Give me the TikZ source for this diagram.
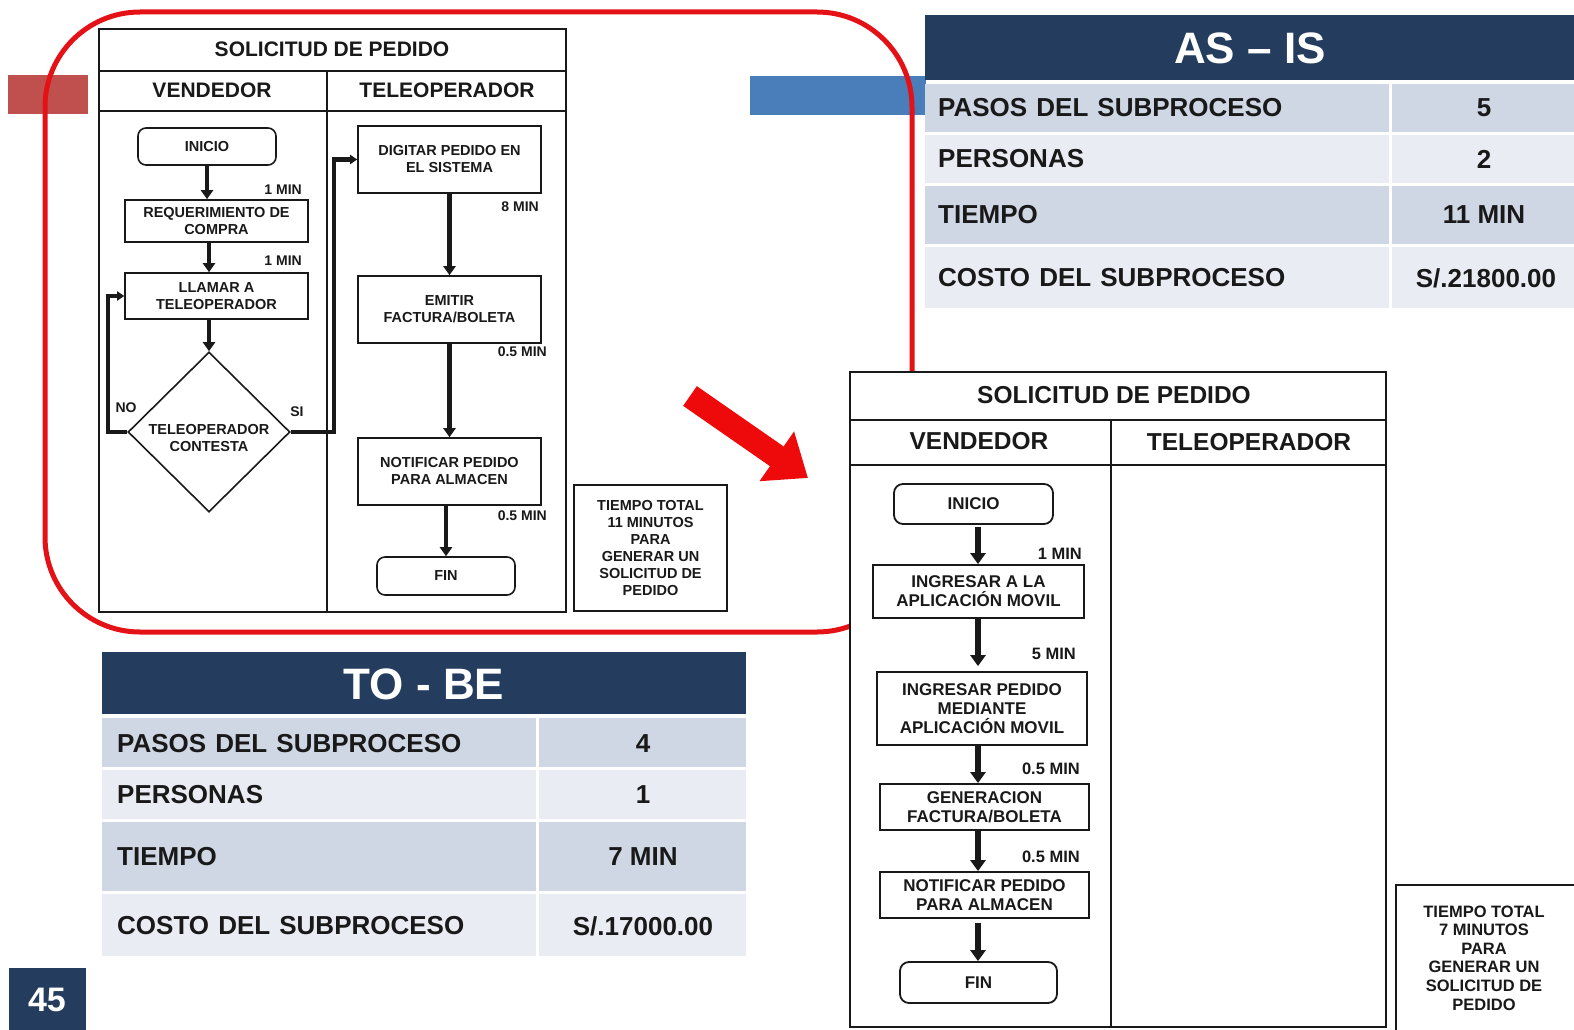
\documentclass[tikz,border=0pt]{standalone}
\usepackage{fontspec}
\setmainfont{Liberation Sans}
\usetikzlibrary{shapes.geometric,arrows.meta,calc}

\definecolor{navy}{RGB}{36,60,94}
\definecolor{rowA}{RGB}{207,214,228}
\definecolor{rowB}{RGB}{233,236,243}
\definecolor{framered}{RGB}{228,18,22}
\definecolor{arrowred}{RGB}{238,10,10}
\definecolor{barred}{RGB}{192,80,77}
\definecolor{barblue}{RGB}{74,126,187}
\definecolor{ink}{RGB}{25,25,25}

\newcommand\bsz[2]{\fontsize{#1}{#2}\selectfont\bfseries}

\tikzset{
  lane/.style={draw=ink, line width=1.6pt},
  procA/.style={draw=ink, line width=1.6pt, fill=white, align=center, inner sep=0pt,
                text=ink, font=\bsz{14.5pt}{17pt}},
  termA/.style={procA, rounded corners=8pt},
  procB/.style={draw=ink, line width=1.8pt, fill=white, align=center, inner sep=0pt,
                text=ink, font=\bsz{17pt}{19pt}},
  termB/.style={procB, rounded corners=9pt},
  flowA/.style={draw=ink, line width=4.5pt, -{Triangle[length=9pt,width=12pt]}},
  flowB/.style={draw=ink, line width=5.5pt, -{Triangle[length=11pt,width=15pt]}},
  loopA/.style={draw=ink, line width=4.5pt, -{Triangle[length=7pt,width=9pt]}},
  lblA/.style={text=ink, inner sep=0pt, font=\bsz{14pt}{16pt}},
  lblB/.style={text=ink, inner sep=0pt, font=\bsz{16.5pt}{18pt}},
  headA/.style={text=ink, inner sep=0pt, font=\bsz{21pt}{24pt}},
  headB/.style={text=ink, inner sep=0pt, font=\bsz{24.5pt}{28pt}},
  tabhead/.style={text=white, inner sep=0pt, font=\bsz{44pt}{48pt}},
  tablbl/.style={text=ink, inner sep=0pt, anchor=west, font=\bsz{26pt}{30pt}},
  tabval/.style={text=ink, inner sep=0pt, font=\bsz{26pt}{30pt}},
  frame/.style={draw=framered, line width=5pt, rounded corners=95pt},
}

\begin{document}
\begin{tikzpicture}[x=1pt,y=-1pt]
\useasboundingbox (0,0) rectangle (1574,1030);
\fill[white] (0,0) rectangle (1574,1030);

% decorative bars behind the frame
\fill[barred] (8,75) rectangle (88,114);
\fill[barblue] (750,76) rectangle (926,115);

% red highlight frame around the current process
\draw[frame] (45,12) rectangle (912,632);

% ---------------- current process (swimlanes) ----------------
\draw[lane, fill=white] (99,29) rectangle (566,612);
\draw[lane] (99,71) -- (566,71);
\draw[lane] (99,111) -- (566,111);
\draw[lane] (327,71) -- (327,612);
\node[headA] (asTitle) at (332,49) {SOLICITUD DE PEDIDO};
\node[headA] (asVend) at (212,90) {VENDEDOR};
\node[headA] (asTele) at (447,90) {TELEOPERADOR};

\node[termA, minimum width=138pt, minimum height=37pt] (ini) at (207,146.5) {INICIO};
\node[procA, minimum width=183pt, minimum height=42pt] (req) at (216.5,221) {REQUERIMIENTO DE\\COMPRA};
\node[procA, minimum width=183pt, minimum height=46pt] (call) at (216.5,296) {LLAMAR A\\TELEOPERADOR};
\node[diamond, draw=ink, line width=1.6pt, fill=white, inner sep=0pt, aspect=1,
      minimum width=162pt, minimum height=160pt,
      label={[yshift=-6pt, align=center, text=ink, inner sep=0pt, font=\bsz{14.5pt}{17pt}]center:TELEOPERADOR\\CONTESTA}] (dec) at (209,432) {};
\node[procA, minimum width=183pt, minimum height=67pt] (dig) at (449.5,159.5) {DIGITAR PEDIDO EN\\EL SISTEMA};
\node[procA, minimum width=183pt, minimum height=67pt] (emit) at (449.5,309.5) {EMITIR\\FACTURA/BOLETA};
\node[procA, minimum width=183pt, minimum height=67pt] (notA) at (449.5,471.5) {NOTIFICAR PEDIDO\\PARA ALMACEN};
\node[termA, minimum width=138pt, minimum height=38pt] (finA) at (446,576) {FIN};
\node[procA, minimum width=153pt, minimum height=126pt] (totA) at (650.5,548) {TIEMPO TOTAL\\11 MINUTOS\\PARA\\GENERAR UN\\SOLICITUD DE\\PEDIDO};

\draw[flowA] (ini.south) -- (ini.south |- req.north);
\draw[flowA] (req.south -| dec.north) -- (call.north -| dec.north);
\draw[flowA] (call.south -| dec.north) -- (dec.north);
\draw[loopA] (dec.west) -- ++(-19,0) |- (call.west);
\draw[loopA] (dec.east) -- ++(43,0) |- (dig.west);
\draw[flowA] (dig.south) -- (emit.north);
\draw[flowA] (emit.south) -- (notA.north);
\draw[flowA] (notA.south -| finA.north) -- (finA.north);

\node[lblA, anchor=east] (a1) at (302,190) {1 MIN};
\node[lblA, anchor=east] (a2) at (302,261) {1 MIN};
\node[lblA, anchor=east] (a3) at (539,207) {8 MIN};
\node[lblA, anchor=east] (a4) at (547,352) {0.5 MIN};
\node[lblA, anchor=east] (a5) at (547,516) {0.5 MIN};
\node[lblA] (no) at (126,408) {NO};
\node[lblA] (si) at (297,412) {SI};

% arrow leading to the improved process
\coordinate (arrTail) at (690,396);
\coordinate (arrTip) at (808,478);
\draw[arrowred, line width=24pt, -{Triangle[length=38pt,width=58pt]}] (arrTail) -- (arrTip);

% ---------------- improved process (swimlanes) ----------------
\draw[lane, line width=1.8pt, fill=white] (850,372) rectangle (1386,1027);
\draw[lane, line width=1.8pt] (850,420) -- (1386,420);
\draw[lane, line width=1.8pt] (850,465) -- (1386,465);
\draw[lane, line width=1.8pt] (1111,420) -- (1111,1027);
\node[headB] (tbTitle) at (1114,395) {SOLICITUD DE PEDIDO};
\node[headB] (tbVend) at (979,441) {VENDEDOR};
\node[headB] (tbTele) at (1249,442) {TELEOPERADOR};

\coordinate (colB) at (978,0);
\node[termB, minimum width=159pt, minimum height=40pt] (iniB) at (973.5,504) {INICIO};
\node[procB, minimum width=211pt, minimum height=53pt] (appB) at (978.5,591.5) {INGRESAR A LA\\APLICACIÓN MOVIL};
\node[procB, minimum width=210pt, minimum height=73pt] (pedB) at (982,708.5) {INGRESAR PEDIDO\\MEDIANTE\\APLICACIÓN MOVIL};
\node[procB, minimum width=209pt, minimum height=46pt] (genB) at (984.5,807) {GENERACION\\FACTURA/BOLETA};
\node[procB, minimum width=209pt, minimum height=46pt] (notB) at (984.5,895) {NOTIFICAR PEDIDO\\PARA ALMACEN};
\node[termB, minimum width=157pt, minimum height=41pt] (finB) at (978.5,982.5) {FIN};

\draw[flowB] ([yshift=-2pt]iniB.south -| colB) -- (appB.north -| colB);
\draw[flowB] (appB.south -| colB) -- ([yshift=5pt]pedB.north -| colB);
\draw[flowB] (pedB.south -| colB) -- (genB.north -| colB);
\draw[flowB] (genB.south -| colB) -- (notB.north -| colB);
\draw[flowB] ([yshift=-4pt]notB.south -| colB) -- (finB.north -| colB);

\node[lblB, anchor=east] (b1) at (1082,554) {1 MIN};
\node[lblB, anchor=east] (b2) at (1076,654) {5 MIN};
\node[lblB, anchor=east] (b3) at (1080,769) {0.5 MIN};
\node[lblB, anchor=east] (b4) at (1080,857) {0.5 MIN};

\draw[lane, line width=1.8pt, fill=white] (1396,885) rectangle (1590,1040);
\node[align=center, text=ink, inner sep=0pt, font=\bsz{16.5pt}{18.6pt}] (totB) at (1484,958)
  {TIEMPO TOTAL\\7 MINUTOS\\PARA\\GENERAR UN\\SOLICITUD DE\\PEDIDO};

% ---------------- AS-IS summary table ----------------
\fill[navy] (925,15) rectangle (1590,80);
\node[tabhead] (asHead) at (1250,48) {AS – IS};
\fill[rowA] (925,84) rectangle (1389,132);
\fill[rowA] (1392,84) rectangle (1590,132);
\fill[rowB] (925,135) rectangle (1389,183);
\fill[rowB] (1392,135) rectangle (1590,183);
\fill[rowA] (925,186) rectangle (1389,244);
\fill[rowA] (1392,186) rectangle (1590,244);
\fill[rowB] (925,247) rectangle (1389,308);
\fill[rowB] (1392,247) rectangle (1590,308);
\node[tablbl] (asL1) at (938,108) {PASOS\hspace{0.35em}DEL\hspace{0.35em}SUBPROCESO};
\node[tablbl] (asL2) at (938,159) {PERSONAS};
\node[tablbl] (asL3) at (938,215) {TIEMPO};
\node[tablbl] (asL4) at (938,278) {COSTO\hspace{0.35em}DEL\hspace{0.35em}SUBPROCESO};
\node[tabval] (asV1) at (1484,108) {5};
\node[tabval] (asV2) at (1484,159) {2};
\node[tabval] (asV3) at (1484,215) {11 MIN};
\node[tabval] (asV4) at (1486,278) {S/.21800.00};

% ---------------- TO-BE summary table ----------------
\fill[navy] (102,652) rectangle (746,714);
\node[tabhead] (tbHead) at (424,684) {TO - BE};
\fill[rowA] (102,718) rectangle (536,767);
\fill[rowA] (539,718) rectangle (746,767);
\fill[rowB] (102,770) rectangle (536,819);
\fill[rowB] (539,770) rectangle (746,819);
\fill[rowA] (102,822) rectangle (536,891);
\fill[rowA] (539,822) rectangle (746,891);
\fill[rowB] (102,894) rectangle (536,956);
\fill[rowB] (539,894) rectangle (746,956);
\node[tablbl] (tbL1) at (117,744) {PASOS\hspace{0.35em}DEL\hspace{0.35em}SUBPROCESO};
\node[tablbl] (tbL2) at (117,795) {PERSONAS};
\node[tablbl] (tbL3) at (117,857) {TIEMPO};
\node[tablbl] (tbL4) at (117,926) {COSTO\hspace{0.35em}DEL\hspace{0.35em}SUBPROCESO};
\node[tabval] (tbV1) at (643,744) {4};
\node[tabval] (tbV2) at (643,795) {1};
\node[tabval] (tbV3) at (643,857) {7 MIN};
\node[tabval] (tbV4) at (643,926) {S/.17000.00};

% page number
\node[fill=navy, text=white, minimum width=77pt, minimum height=64pt, inner sep=0pt,
      font=\bsz{34pt}{38pt}] (pageno) at (47,1000) {45};
\end{tikzpicture}
\end{document}
